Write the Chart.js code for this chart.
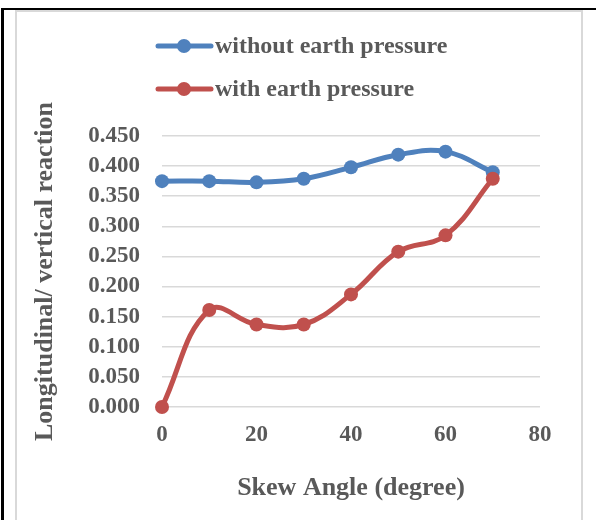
<!DOCTYPE html>
<html>
<head>
<meta charset="utf-8">
<script src="https://cdn.jsdelivr.net/npm/chart.js@4.4.1/dist/chart.umd.min.js"></script>
<style>
  html, body { margin: 0; padding: 0; background: #fff; width: 596px; height: 520px; overflow: hidden; }
  #frame { position: absolute; left: 1px; top: 8px; width: 595px; height: 512px; border-top: 2px solid #000; border-left: 3px solid #000; box-sizing: border-box; }
  #box { position: absolute; left: 15px; top: 10px; width: 568px; height: 510px; border: 2px solid #d9d9d9; border-bottom: none; box-sizing: border-box; background: #fff; }
  #wrap { position: absolute; left: 17px; top: 12px; width: 564px; height: 508px; }
</style>
</head>
<body>
<div id="frame"></div>
<div id="box"></div>
<div id="wrap"><canvas id="chart"></canvas></div>
<script>
// Chart data
const skewAngles = [0, 10, 20, 30, 40, 50, 60, 70];
const withoutEarth = [0.375, 0.375, 0.373, 0.379, 0.398, 0.419, 0.424, 0.390];
const withEarth = [0, 0.161, 0.137, 0.137, 0.187, 0.258, 0.285, 0.379];
const seriesNames = ['without earth pressure', 'with earth pressure'];
const xTicks = [0, 20, 40, 60, 80];
const yTicks = [0, 0.05, 0.1, 0.15, 0.2, 0.25, 0.3, 0.35, 0.4, 0.45];

const BLUE = '#4f81bd', RED = '#c0504d', TEXT = '#595959';
const FONT = '"Liberation Serif", "Times New Roman", serif';

const toPoints = ys => skewAngles.map((x, i) => ({ x, y: ys[i] }));

// two-row legend like the Excel original
const stackedLegend = {
  id: 'stackedLegend',
  afterDraw(chart) {
    const ctx = chart.ctx;
    const rows = [34, 77];
    chart.data.datasets.forEach((ds, i) => {
      const y = rows[i];
      ctx.save();
      ctx.strokeStyle = ds.borderColor;
      ctx.lineWidth = 5;
      ctx.lineCap = 'round';
      ctx.beginPath();
      ctx.moveTo(141, y);
      ctx.lineTo(194, y);
      ctx.stroke();
      ctx.fillStyle = ds.borderColor;
      ctx.beginPath();
      ctx.arc(167, y, 7, 0, Math.PI * 2);
      ctx.fill();
      ctx.fillStyle = TEXT;
      ctx.font = 'bold 24px ' + FONT;
      ctx.textBaseline = 'middle';
      ctx.fillText(ds.label, 198, y + 1);
      ctx.restore();
    });
  }
};

new Chart(document.getElementById('chart'), {
  type: 'line',
  data: {
    datasets: [
      { label: seriesNames[0], data: toPoints(withoutEarth), borderColor: BLUE, backgroundColor: BLUE, order: 1 },
      { label: seriesNames[1], data: toPoints(withEarth), borderColor: RED, backgroundColor: RED, order: 0 }
    ]
  },
  options: {
    responsive: true,
    maintainAspectRatio: false,
    animation: false,
    clip: false,
    layout: { padding: { top: 124, right: 41, left: 0, bottom: 0 } },
    elements: {
      line: { borderWidth: 5, tension: 0.4, cubicInterpolationMode: 'default', borderCapStyle: 'round' },
      point: { radius: 7, hoverRadius: 7, borderWidth: 0 }
    },
    plugins: { legend: { display: false }, tooltip: { enabled: false } },
    scales: {
      x: {
        type: 'linear', min: 0, max: 80,
        afterBuildTicks: s => { s.ticks = xTicks.map(v => ({ value: v })); },
        afterFit: s => { s.height = 113; },
        grid: { display: false, drawTicks: false },
        border: { display: false },
        ticks: { color: TEXT, padding: 14, autoSkip: false, maxRotation: 0, font: { family: FONT, size: 23, weight: 'bold' } },
        title: { display: true, text: 'Skew Angle (degree)', color: TEXT, padding: { top: 0, bottom: 16 }, font: { family: FONT, size: 26, weight: 'bold' } }
      },
      y: {
        min: 0, max: 0.45,
        afterBuildTicks: s => { s.ticks = yTicks.map(v => ({ value: v })); },
        afterFit: s => { s.width = 145; },
        grid: { color: '#d9d9d9', lineWidth: 1.5, drawTicks: false },
        border: { display: false },
        ticks: { color: TEXT, padding: 22, autoSkip: false, font: { family: FONT, size: 23, weight: 'bold' }, callback: v => v.toFixed(3) },
        title: { display: true, text: 'Longitudinal/ vertical reaction', color: TEXT, padding: { top: 13, bottom: 0 }, font: { family: FONT, size: 26, weight: 'bold' } }
      }
    }
  },
  plugins: [stackedLegend]
});
</script>
</body>
</html>
